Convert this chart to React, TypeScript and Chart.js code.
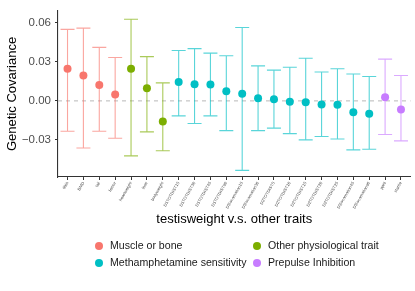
import React, { useEffect, useRef } from "react";
import { Chart, registerables } from "chart.js";

Chart.register(...registerables);

const categories = [
  "tibia", "BMD", "tail", "femur",
  "heartweight", "liver", "bodyweight",
  "D1TOTDIST15", "D1TOTDIST30", "D1TOTDIST45", "D1TOTDIST60", "D3locomotion15",
  "D3locomotion30", "D2TOTDIST5", "D2TOTDIST10", "D2TOTDIST15", "D2TOTDIST20",
  "D2TOTDIST25", "D3locomotion45", "D3locomotion60",
  "ppi6", "startle",
];
const groupIndex = [0, 0, 0, 0, 1, 1, 1, 2, 2, 2, 2, 2, 2, 2, 2, 2, 2, 2, 2, 2, 3, 3];
const groupNames = ["Muscle or bone", "Other physiological trait", "Methamphetamine sensitivity", "Prepulse Inhibition"];
const groupColors = ["#F8766D", "#7CAE00", "#00BFC4", "#C77CFF"];
const groupBarColors = ["rgba(248,118,109,0.65)", "rgba(124,174,0,0.65)", "rgba(0,191,196,0.65)", "rgba(199,124,255,0.65)"];

const estimate = [0.0246, 0.0195, 0.0121, 0.0049, 0.0246, 0.0096, -0.0159, 0.0145, 0.0128, 0.0125, 0.0074, 0.0055, 0.0020, 0.0013, -0.0007, -0.0010, -0.0027, -0.0029, -0.0088, -0.0098, 0.0027, -0.0066];
const upper = [0.0548, 0.0558, 0.0410, 0.0332, 0.0626, 0.0339, 0.0138, 0.0386, 0.0401, 0.0366, 0.0346, 0.0563, 0.0268, 0.0236, 0.0258, 0.0327, 0.0221, 0.0246, 0.0206, 0.0187, 0.0320, 0.0195];
const lower = [-0.0233, -0.0361, -0.0233, -0.0287, -0.0422, -0.0238, -0.0383, -0.0115, -0.0174, -0.0115, -0.0228, -0.0533, -0.0228, -0.0209, -0.0251, -0.0299, -0.0273, -0.0292, -0.0376, -0.0371, -0.0258, -0.0307];

const yTicks = [-0.03, 0, 0.03, 0.06];
const xTitle = "testisweight v.s. other traits";
const yTitle = "Genetic Covariance";

const FONT = "'Liberation Sans', Arial, Helvetica, sans-serif";

export default function App() {
  const ref = useRef<HTMLCanvasElement | null>(null);

  useEffect(() => {
    const canvas = ref.current;
    if (!canvas) return;

    const zeroLine = {
      id: "zeroLine",
      beforeDatasetsDraw(chart: any) {
        const { ctx, chartArea, scales } = chart;
        const y = scales.y.getPixelForValue(0);
        ctx.save();
        ctx.strokeStyle = "#C4C4C4";
        ctx.lineWidth = 1.2;
        ctx.setLineDash([4, 4]);
        ctx.beginPath();
        ctx.moveTo(chartArea.left, y);
        ctx.lineTo(chartArea.right, y);
        ctx.stroke();
        ctx.restore();
      },
    };

    const errorBars = {
      id: "errorBars",
      beforeDatasetsDraw(chart: any) {
        const { ctx, scales } = chart;
        ctx.save();
        ctx.lineWidth = 1.1;
        for (let i = 0; i < categories.length; i++) {
          const x = scales.x.getPixelForValue(i);
          const yl = scales.y.getPixelForValue(lower[i]);
          const yu = scales.y.getPixelForValue(upper[i]);
          ctx.strokeStyle = groupBarColors[groupIndex[i]];
          ctx.beginPath();
          ctx.moveTo(x, yu);
          ctx.lineTo(x, yl);
          ctx.moveTo(x - 7, yu);
          ctx.lineTo(x + 7, yu);
          ctx.moveTo(x - 7, yl);
          ctx.lineTo(x + 7, yl);
          ctx.stroke();
        }
        ctx.restore();
      },
    };

    const texts = {
      id: "texts",
      afterDraw(chart: any) {
        const { ctx, chartArea } = chart;
        ctx.save();
        ctx.fillStyle = "#000000";
        ctx.font = `13px ${FONT}`;
        ctx.textAlign = "center";
        ctx.textBaseline = "middle";
        ctx.fillText(xTitle, (chartArea.left + chartArea.right) / 2, 219);
        ctx.save();
        ctx.translate(12, (chartArea.top + chartArea.bottom) / 2);
        ctx.rotate(-Math.PI / 2);
        ctx.fillText(yTitle, 0, 0);
        ctx.restore();

        // legend (filled column-wise, 2 rows)
        const colX = [99, 257];
        const rowY = [246, 263];
        ctx.font = `10.6px ${FONT}`;
        ctx.textAlign = "left";
        for (let g = 0; g < groupNames.length; g++) {
          const col = Math.floor(g / 2) === 0 ? (g === 0 ? 0 : 0) : 1;
          const c = g === 0 || g === 2 ? 0 : 1;
          const r = g === 0 || g === 1 ? 0 : 1;
          void col;
          const cx = colX[c];
          const cy = rowY[r];
          ctx.fillStyle = groupColors[g];
          ctx.beginPath();
          ctx.arc(cx, cy, 4, 0, Math.PI * 2);
          ctx.fill();
          ctx.fillStyle = "#1A1A1A";
          ctx.fillText(groupNames[g], cx + 11, cy);
        }
        ctx.restore();
      },
    };

    const chart = new Chart(canvas, {
      type: "scatter",
      data: {
        datasets: [
          {
            data: estimate.map((v, i) => ({ x: i, y: v })),
            pointRadius: 4,
            pointHoverRadius: 4,
            pointBorderWidth: 0,
            pointBackgroundColor: estimate.map((_, i) => groupColors[groupIndex[i]]),
            pointBorderColor: estimate.map((_, i) => groupColors[groupIndex[i]]),
            clip: false,
          } as any,
        ],
      },
      options: {
        responsive: false,
        animation: false,
        devicePixelRatio: 1,
        events: [],
        layout: { padding: { top: 4, right: 4.5, bottom: 0, left: 0 } },
        plugins: { legend: { display: false }, tooltip: { enabled: false } },
        scales: {
          x: {
            type: "linear",
            min: -0.6,
            max: categories.length - 1 + 0.6,
            afterBuildTicks(scale: any) {
              scale.ticks = categories.map((_, i) => ({ value: i }));
            },
            afterFit(scale: any) {
              scale.height = 114;
            },
            ticks: {
              autoSkip: false,
              minRotation: 60,
              maxRotation: 60,
              padding: 1,
              color: "#4D4D4D",
              font: { size: 4.2, family: FONT },
              callback: (v: any) => categories[Math.round(Number(v))] ?? "",
            },
            grid: { display: true, drawOnChartArea: false, drawTicks: true, tickLength: 3, color: "#333333", lineWidth: 1 },
            border: { display: true, color: "#333333", width: 1.1 },
          },
          y: {
            type: "linear",
            min: -0.0584,
            max: 0.069,
            afterBuildTicks(scale: any) {
              scale.ticks = yTicks.map((v) => ({ value: v }));
            },
            afterFit(scale: any) {
              scale.width = 58;
            },
            ticks: {
              padding: 4,
              color: "#4D4D4D",
              font: { size: 11.5, family: FONT },
              callback: (v: any) => {
                const n = Number(v);
                const s = Math.abs(n).toFixed(2);
                return n < -1e-9 ? "\u2212" + s : s;
              },
            },
            grid: { display: true, drawOnChartArea: false, drawTicks: true, tickLength: 3, color: "#333333", lineWidth: 1 },
            border: { display: true, color: "#333333", width: 1.1 },
          },
        },
      } as any,
      plugins: [zeroLine, errorBars, texts],
    });

    return () => chart.destroy();
  }, []);

  return (
    <div style={{ position: "fixed", left: 0, top: 0, width: 415, height: 291, background: "#ffffff" }}>
      <canvas ref={ref} width={415} height={291} style={{ display: "block", width: 415, height: 291 }} />
    </div>
  );
}
